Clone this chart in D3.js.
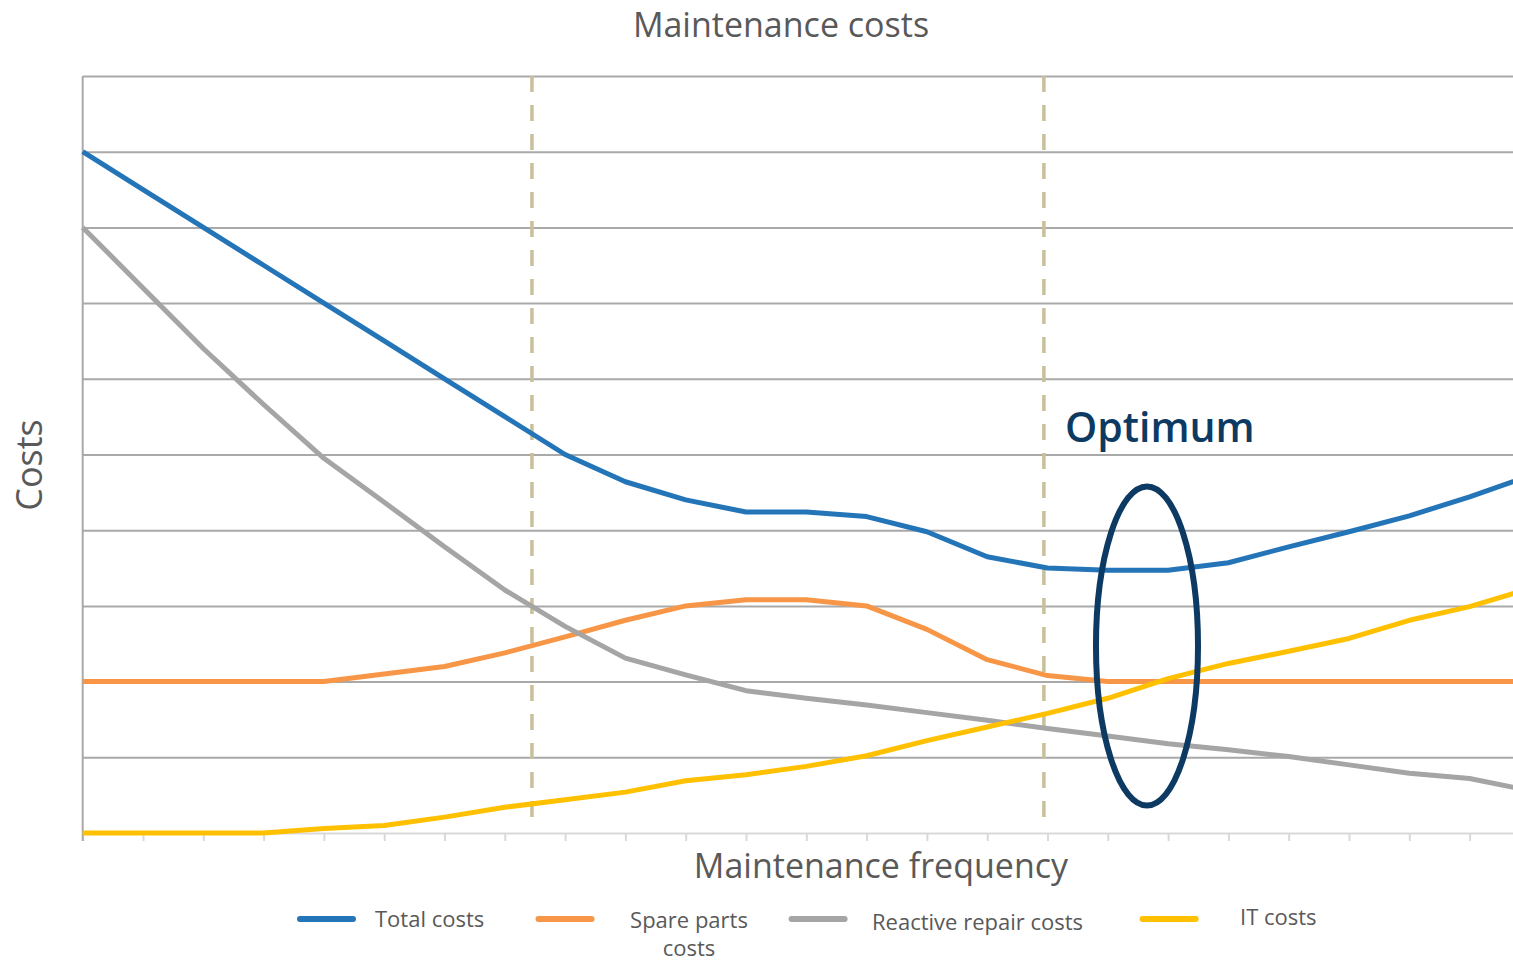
<!DOCTYPE html>
<html>
<head>
<meta charset="utf-8">
<script src="https://cdn.jsdelivr.net/npm/d3@7"></script>
<style>
  body { margin: 0; background: #fff; }
  text { font-family: "Open Sans", "DejaVu Sans", sans-serif; }
</style>
</head>
<body>
<svg id="chart"></svg>
<script>
// values, one per maintenance-frequency step (index 0..24, last one is cut off by the frame)
const steps = d3.range(25)
const totalCosts = [9.0, 8.5, 8.0, 7.5, 7.0, 6.5, 6.0, 5.5, 5.0, 4.64, 4.40, 4.24, 4.24, 4.18, 3.98, 3.65, 3.50, 3.47, 3.47, 3.57, 3.78, 3.98, 4.19, 4.44, 4.72]
const spareParts = [2.0, 2.0, 2.0, 2.0, 2.0, 2.1, 2.2, 2.38, 2.59, 2.81, 3.0, 3.08, 3.08, 3.0, 2.69, 2.29, 2.08, 2.0, 2.0, 2.0, 2.0, 2.0, 2.0, 2.0, 2.0]
const reactiveRepair = [8.0, 7.2, 6.4, 5.66, 4.95, 4.37, 3.78, 3.21, 2.73, 2.31, 2.09, 1.88, 1.78, 1.69, 1.59, 1.49, 1.38, 1.28, 1.18, 1.10, 1.01, 0.90, 0.79, 0.72, 0.56]
const itCosts = [0, 0, 0, 0, 0.06, 0.10, 0.21, 0.34, 0.44, 0.54, 0.69, 0.77, 0.88, 1.02, 1.22, 1.40, 1.58, 1.78, 2.04, 2.24, 2.40, 2.57, 2.81, 2.99, 3.23]

const seriesNames = ["Total costs", "Spare parts costs", "Reactive repair costs", "IT costs"]
const seriesColors = ["#2474b8", "#f79646", "#a5a5a5", "#ffc000"]
const yTicks = d3.range(0, 11)

// annotations (in data units)
const dashedAt = [7.45, 15.94]
const optimum = { x: 17.65, y: 2.47, rx: 0.846, ry: 2.107 }

const width = 1513
const height = 963
const margin = { left: 82.7, top: 76, bottom: 130 }
const stepPx = 60.3

const svg = d3.select("#chart")
  .attr("width", width)
  .attr("height", height)

const x = d3.scaleLinear()
  .domain([0, 24])
  .range([margin.left, margin.left + 24 * stepPx])
const y = d3.scaleLinear()
  .domain([0, 10])
  .range([height - margin.bottom, margin.top])

svg.append("defs").append("clipPath")
  .attr("id", "plotClip")
  .append("rect")
  .attr("x", margin.left - 5)
  .attr("y", 0)
  .attr("width", width - margin.left + 5)
  .attr("height", height)

// gridlines
const grid = svg.append("g")
  .attr("transform", `translate(${margin.left},0)`)
  .call(d3.axisLeft(y).tickValues(yTicks.slice(1)).tickSize(-(width - margin.left)).tickFormat(""))
grid.select(".domain").remove()
grid.selectAll("line").attr("stroke", "#a9a9a9").attr("stroke-width", 2)

// bottom axis
const xAxis = svg.append("g")
  .attr("transform", `translate(0,${y(0)})`)
  .call(d3.axisBottom(x).tickValues(d3.range(0, 24)).tickSize(8).tickSizeOuter(0).tickFormat(""))
xAxis.select(".domain").attr("stroke", "#d9d9d9").attr("stroke-width", 2)
xAxis.selectAll(".tick line").attr("stroke", "#d9d9d9").attr("stroke-width", 2)

// left axis line
svg.append("line")
  .attr("x1", margin.left).attr("x2", margin.left)
  .attr("y1", y(10)).attr("y2", y(0) + 8)
  .attr("stroke", "#a9a9a9")
  .attr("stroke-width", 2)

// dashed markers
svg.append("g")
  .selectAll("line")
  .data(dashedAt)
  .join("line")
  .attr("x1", d => x(d)).attr("x2", d => x(d))
  .attr("y1", y(10)).attr("y2", y(0) - 6)
  .attr("stroke", "#c8c09a")
  .attr("stroke-width", 3.5)
  .attr("stroke-dasharray", "16 13")

// series
const allSeries = [totalCosts, spareParts, reactiveRepair, itCosts]
const line = d3.line()
  .x((d, i) => x(steps[i]))
  .y(d => y(d))

svg.append("g")
  .attr("clip-path", "url(#plotClip)")
  .selectAll("path")
  .data(allSeries)
  .join("path")
  .attr("d", line)
  .attr("fill", "none")
  .attr("stroke", (d, i) => seriesColors[i])
  .attr("stroke-width", 5)
  .attr("stroke-linejoin", "round")

// optimum ellipse + label
svg.append("ellipse")
  .attr("cx", x(optimum.x))
  .attr("cy", y(optimum.y))
  .attr("rx", x(optimum.rx) - x(0))
  .attr("ry", y(0) - y(optimum.ry))
  .attr("fill", "none")
  .attr("stroke", "#0d3a63")
  .attr("stroke-width", 6)

svg.append("text")
  .attr("x", 1065)
  .attr("y", 442)
  .attr("fill", "#0d3a63")
  .attr("font-size", 41)
  .attr("font-weight", 600)
  .text("Optimum")

// titles
svg.append("text")
  .attr("x", 781).attr("y", 37)
  .attr("text-anchor", "middle")
  .attr("fill", "#595959")
  .attr("font-size", 34)
  .text("Maintenance costs")

svg.append("text")
  .attr("x", 881).attr("y", 878)
  .attr("text-anchor", "middle")
  .attr("fill", "#595959")
  .attr("font-size", 34)
  .text("Maintenance frequency")

svg.append("text")
  .attr("transform", "translate(42,465) rotate(-90)")
  .attr("text-anchor", "middle")
  .attr("fill", "#595959")
  .attr("font-size", 36)
  .text("Costs")

// legend
const legendLayout = [
  { sx: 300, tx: 375, anchor: "start", lines: [927] , text: ["Total costs"] },
  { sx: 538.5, tx: 689, anchor: "middle", lines: [928, 956], text: ["Spare parts", "costs"] },
  { sx: 791.6, tx: 872, anchor: "start", lines: [930], text: ["Reactive repair costs"] },
  { sx: 1142.6, tx: 1240, anchor: "start", lines: [925], text: ["IT costs"] }
]

const legend = svg.append("g")
  .selectAll("g")
  .data(legendLayout)
  .join("g")

legend.append("line")
  .attr("x1", d => d.sx).attr("x2", d => d.sx + 53)
  .attr("y1", 919).attr("y2", 919)
  .attr("stroke", (d, i) => seriesColors[i])
  .attr("stroke-width", 6)
  .attr("stroke-linecap", "round")

legend.each(function (d, i) {
  const g = d3.select(this)
  d.text.forEach((t, k) => {
    g.append("text")
      .attr("x", d.tx)
      .attr("y", d.lines[k])
      .attr("text-anchor", d.anchor)
      .attr("fill", "#595959")
      .attr("font-size", 22)
      .text(t)
  })
})
</script>
</body>
</html>
